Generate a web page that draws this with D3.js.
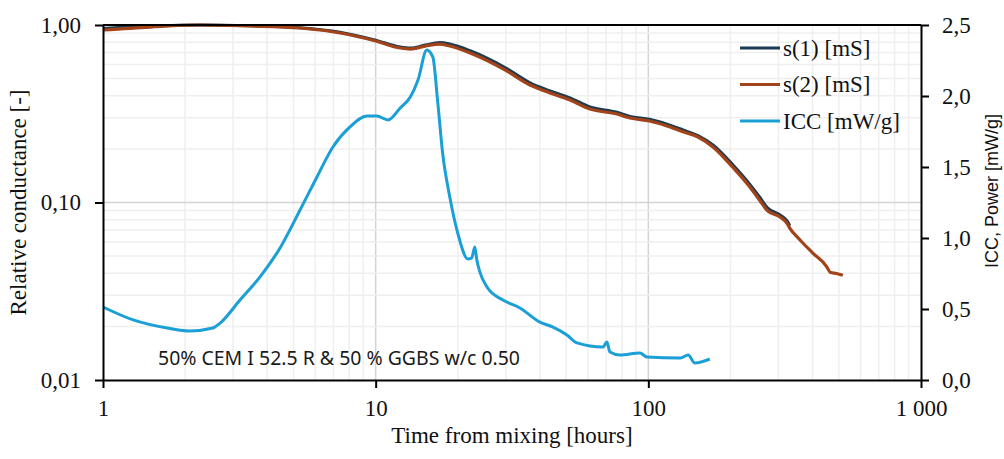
<!DOCTYPE html>
<html>
<head>
<meta charset="utf-8">
<script src="https://cdn.jsdelivr.net/npm/d3@7"></script>
<style>
  body { margin: 0; background: #fff; }
  svg { display: block; }
</style>
</head>
<body>
<script>
// page size
const width = 1004;
const height = 459;

// data
const s1Time = [1, 1.49, 2.27, 3.46, 5.28, 7.4, 10, 12.3, 13.4, 15.2, 17.2, 18.7, 22.2, 29.8, 36.8, 43.6, 51.6, 61.1, 76.7, 85.6, 101, 117, 134, 152, 173, 204, 236, 256, 272, 304, 322, 330];
const s1Value = [0.955, 0.985, 1.0, 0.99, 0.965, 0.91, 0.82, 0.75, 0.74, 0.77, 0.795, 0.78, 0.715, 0.575, 0.472, 0.425, 0.388, 0.345, 0.322, 0.305, 0.294, 0.276, 0.256, 0.238, 0.21, 0.163, 0.126, 0.107, 0.094, 0.085, 0.079, 0.074];

const s2Time = [1, 1.49, 2.27, 3.46, 5.28, 7.4, 10, 12.3, 13.4, 15.2, 17.2, 18.7, 22.2, 29.8, 36.8, 43.6, 51.6, 61.1, 76.7, 85.6, 101, 117, 134, 152, 173, 204, 236, 256, 272, 304, 322, 330, 360, 401, 452, 464, 490, 517];
const s2Value = [0.937, 0.974, 1.0, 0.987, 0.962, 0.901, 0.813, 0.742, 0.732, 0.761, 0.781, 0.761, 0.695, 0.558, 0.459, 0.414, 0.378, 0.336, 0.315, 0.299, 0.288, 0.27, 0.25, 0.234, 0.205, 0.158, 0.122, 0.103, 0.0907, 0.0829, 0.0766, 0.0718, 0.0615, 0.0519, 0.0433, 0.0405, 0.0398, 0.0389];

const iccTime = [1, 1.29, 1.72, 2.08, 2.53, 2.69, 3.18, 3.76, 4.46, 5.28, 6.09, 6.97, 8.05, 9.29, 10.1, 11.1, 12.3, 13.4, 14.3, 15.4, 16.2, 16.9, 17.6, 18.7, 20.0, 21.8, 22.5, 23.1, 23.5, 24.1, 25.6, 29.3, 33.8, 40.0, 44.7, 50.3, 54.7, 68.2, 70.5, 72.3, 78.7, 93.2, 98.8, 131, 140, 148, 168];
const iccPower = [0.514, 0.423, 0.366, 0.345, 0.366, 0.401, 0.563, 0.725, 0.93, 1.197, 1.43, 1.641, 1.782, 1.859, 1.859, 1.831, 1.915, 1.993, 2.113, 2.324, 2.275, 1.951, 1.599, 1.289, 1.035, 0.852, 0.859, 0.937, 0.845, 0.761, 0.655, 0.563, 0.507, 0.408, 0.373, 0.317, 0.261, 0.232, 0.268, 0.197, 0.176, 0.19, 0.162, 0.155, 0.176, 0.12, 0.148];

const xTicks = [1, 10, 100, 1000];
const xTickLabels = ['1', '10', '100', '1 000'];
const yTicks = [0.01, 0.1, 1];
const yTickLabels = ['0,01', '0,10', '1,00'];
const y2Ticks = [0, 0.5, 1, 1.5, 2, 2.5];
const y2TickLabels = ['0,0', '0,5', '1,0', '1,5', '2,0', '2,5'];

const seriesNames = ['s(1) [mS]', 's(2) [mS]', 'ICC [mW/g]'];
const seriesColors = ['#1b3b50', '#a2431a', '#1a9fd6'];

const margin = {left: 103, right: 83, top: 25, bottom: 79};

const x = d3.scaleLog().domain([1, 1000]).range([margin.left, width - margin.right]);
const y = d3.scaleLog().domain([0.01, 1]).range([height - margin.bottom, margin.top]);
const y2 = d3.scaleLinear().domain([0, 2.5]).range([height - margin.bottom, margin.top]);

const serif = '"Liberation Serif", "Times New Roman", serif';
const sans = '"Liberation Sans", Arial, sans-serif';

const svg = d3.select('body').append('svg').attr('width', width).attr('height', height);

// grid lines (log minor + major)
const xGrid = [];
[1, 10, 100].forEach(d => { for (let k = 2; k <= 9; k++) xGrid.push({v: d * k, major: false}); });
[10, 100].forEach(v => xGrid.push({v: v, major: true}));

const yGrid = [];
[0.01, 0.1].forEach(d => { for (let k = 2; k <= 9; k++) yGrid.push({v: d * k, major: false}); });
yGrid.push({v: 0.1, major: true});

const grid = svg.append('g');
grid.selectAll('line.gx')
  .data(xGrid.sort((a, b) => a.major - b.major))
  .join('line')
    .attr('x1', d => x(d.v)).attr('x2', d => x(d.v))
    .attr('y1', margin.top).attr('y2', height - margin.bottom)
    .attr('stroke', d => d.major ? '#d4d4d4' : '#efefef')
    .attr('stroke-width', 1.5);
grid.selectAll('line.gy')
  .data(yGrid.sort((a, b) => a.major - b.major))
  .join('line')
    .attr('y1', d => y(d.v)).attr('y2', d => y(d.v))
    .attr('x1', margin.left).attr('x2', width - margin.right)
    .attr('stroke', d => d.major ? '#d4d4d4' : '#efefef')
    .attr('stroke-width', 1.5);

// annotation
svg.append('text')
  .attr('x', 158).attr('y', 365)
  .attr('font-family', '"Noto Sans", Inter, sans-serif')
  .attr('font-size', 19)
  .attr('textLength', 362)
  .attr('lengthAdjust', 'spacingAndGlyphs')
  .attr('fill', '#1a1a1a')
  .text('50% CEM I 52.5 R & 50 % GGBS w/c 0.50');

// lines
const lineL = (times, vals) => d3.line().curve(d3.curveMonotoneX)
  .x((d, i) => x(times[i])).y((d, i) => y(vals[i]))(vals);

svg.append('path').attr('d', lineL(s1Time, s1Value))
  .attr('fill', 'none').attr('stroke', seriesColors[0]).attr('stroke-width', 3.2);
svg.append('path').attr('d', lineL(s2Time, s2Value))
  .attr('fill', 'none').attr('stroke', seriesColors[1]).attr('stroke-width', 3.2);

const iccLine = d3.line().curve(d3.curveMonotoneX)
  .x((d, i) => x(iccTime[i])).y(d => y2(d));
svg.append('path').attr('d', iccLine(iccPower))
  .attr('fill', 'none').attr('stroke', seriesColors[2]).attr('stroke-width', 3);

// axes
const axisStyle = g => {
  g.select('.domain').attr('stroke', '#000').attr('stroke-width', 2);
  g.selectAll('.tick line').attr('stroke', '#000').attr('stroke-width', 2);
  g.selectAll('.tick text').attr('font-family', serif).attr('font-size', 23).attr('fill', '#111');
};

svg.append('g')
  .attr('transform', `translate(0,${height - margin.bottom})`)
  .call(d3.axisBottom(x).tickValues(xTicks).tickFormat((d, i) => xTickLabels[i]).tickSize(8).tickPadding(12).tickSizeOuter(0))
  .call(axisStyle);

svg.append('g')
  .attr('transform', `translate(${margin.left},0)`)
  .call(d3.axisLeft(y).tickValues(yTicks).tickFormat((d, i) => yTickLabels[i]).tickSize(8).tickPadding(14).tickSizeOuter(0))
  .call(axisStyle);

svg.append('g')
  .attr('transform', `translate(${width - margin.right},0)`)
  .call(d3.axisRight(y2).tickValues(y2Ticks).tickFormat((d, i) => y2TickLabels[i]).tickSize(8).tickPadding(13).tickSizeOuter(0))
  .call(axisStyle);

// top border
svg.append('line')
  .attr('x1', margin.left).attr('x2', width - margin.right)
  .attr('y1', margin.top).attr('y2', margin.top)
  .attr('stroke', '#000').attr('stroke-width', 2);

// titles
svg.append('text')
  .attr('x', x(Math.sqrt(1000))).attr('y', 443)
  .attr('text-anchor', 'middle')
  .attr('font-family', serif).attr('font-size', 23).attr('fill', '#111')
  .text('Time from mixing [hours]');

svg.append('text')
  .attr('transform', `translate(26,${(margin.top + height - margin.bottom) / 2}) rotate(-90)`)
  .attr('text-anchor', 'middle')
  .attr('font-family', serif).attr('font-size', 23).attr('fill', '#111')
  .text('Relative conductance [-]');

svg.append('text')
  .attr('transform', `translate(998,191) rotate(-90)`)
  .attr('text-anchor', 'middle')
  .attr('font-family', sans).attr('font-size', 18).attr('fill', '#111')
  .text('ICC, Power [mW/g]');

// legend
const legend = svg.append('g')
  .selectAll('g')
  .data(seriesNames)
  .join('g')
    .attr('transform', (d, i) => `translate(740,${48 + i * 36.5})`);
legend.append('line')
  .attr('x1', 0).attr('x2', 40)
  .attr('stroke', (d, i) => seriesColors[i]).attr('stroke-width', 3);
legend.append('text')
  .attr('x', 43).attr('dy', '0.33em')
  .attr('font-family', serif).attr('font-size', 23).attr('fill', '#111')
  .text(d => d);
</script>
</body>
</html>
